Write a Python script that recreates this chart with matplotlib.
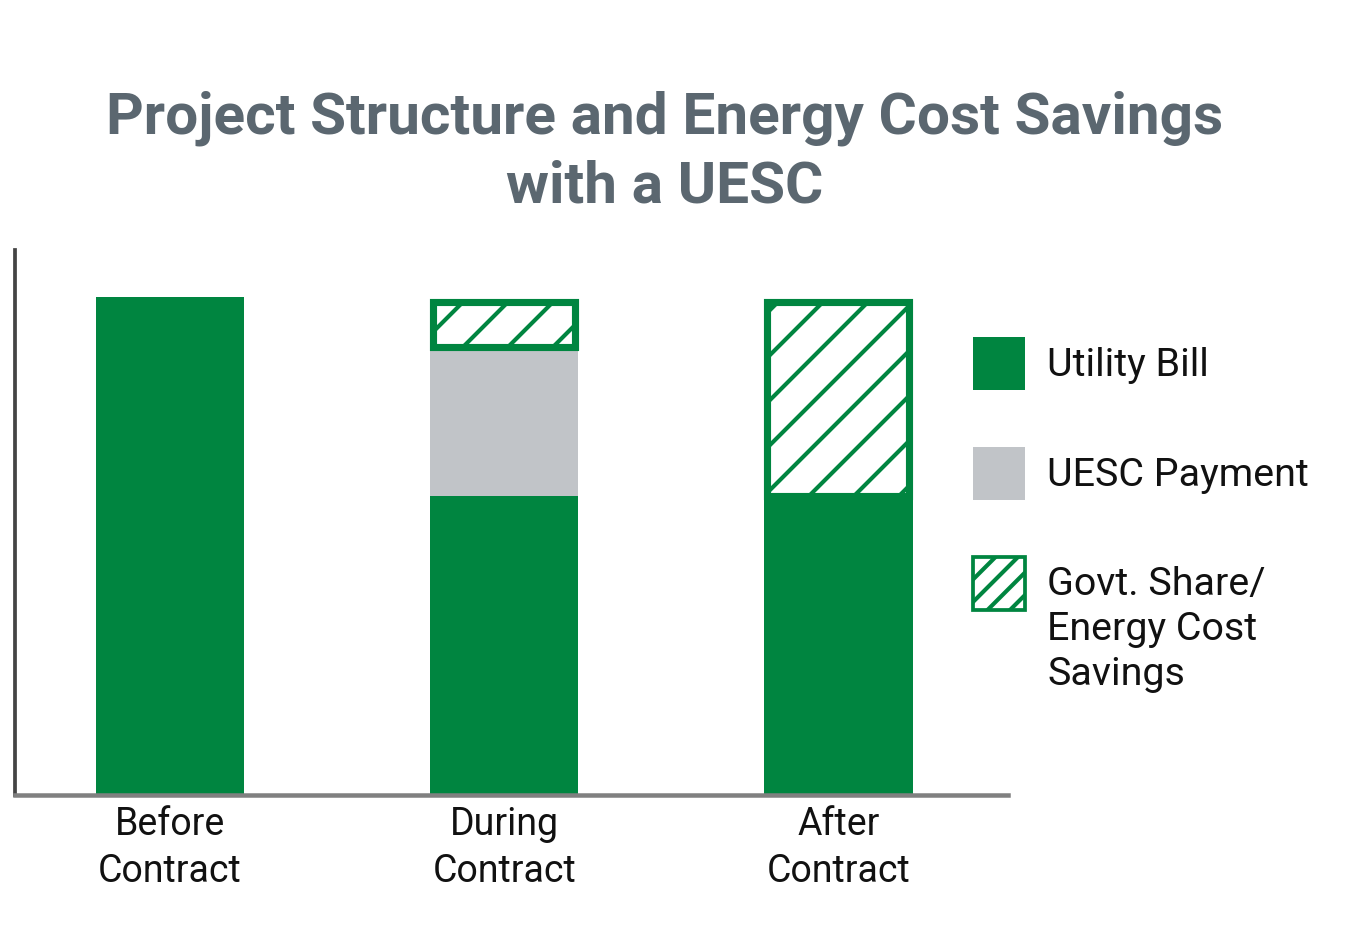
import matplotlib
matplotlib.use("Agg")
import matplotlib.pyplot as plt
import numpy as np
from matplotlib.patches import Patch, Rectangle
from matplotlib.legend_handler import HandlerPatch

# ---- data ----
categories = ["Before\nContract", "During\nContract", "After\nContract"]
utility_bill = [100, 60, 60]
uesc_payment = [0, 30, 0]
savings = [0, 9, 39]
legend_labels = ["Utility Bill", "UESC Payment", "Govt. Share/\nEnergy Cost\nSavings"]
title = "Project Structure and Energy Cost Savings\nwith a UESC"

GREEN = "#008540"
GRAY = "#c1c4c8"
TITLE_COLOR = "#5b6770"

plt.rcParams["font.family"] = ["Roboto", "DejaVu Sans"]
plt.rcParams["hatch.linewidth"] = 1.1

DPI = 270
fig = plt.figure(figsize=(1350 / DPI, 949 / DPI), dpi=DPI)
fig.patch.set_facecolor("white")
ax = fig.add_axes([15 / 1350, 1 - 795 / 949, 993 / 1350, 545 / 949])

x = np.arange(len(categories))
width = 0.445
ub = np.array(utility_bill, dtype=float)
up = np.array(uesc_payment, dtype=float)
sv = np.array(savings, dtype=float)

ax.bar(x, ub, width=width, color=GREEN, linewidth=0, zorder=2)
m = up > 0
ax.bar(x[m], up[m], width=width, bottom=ub[m], color=GRAY, linewidth=0, zorder=2)
s = sv > 0
ax.bar(x[s], sv[s], width=width - 0.021, bottom=(ub + up)[s], facecolor="white",
       edgecolor=GREEN, hatch="//", linewidth=1.9, zorder=3)

ax.set_xlim(-0.464, 2.508)
ax.set_ylim(0, 109.4)
ax.set_yticks([])
ax.set_xticks(x)
ax.set_xticklabels(categories, fontsize=10, color="#111111", linespacing=1.32)
ax.tick_params(axis="x", length=0, pad=3)
for side in ["top", "right"]:
    ax.spines[side].set_visible(False)
ax.spines["left"].set_color("#444444")
ax.spines["left"].set_linewidth(1.0)
ax.spines["bottom"].set_color("#808080")
ax.spines["bottom"].set_linewidth(1.2)
ax.spines["left"].set_zorder(4)
ax.spines["bottom"].set_zorder(4)

fig.text(665 / 1350, 1 - 90 / 949, title, ha="center", va="top", fontsize=15.6,
         fontweight="bold", color=TITLE_COLOR, linespacing=1.32)

# legend
handles = [
    Patch(facecolor=GREEN, edgecolor="none"),
    Patch(facecolor=GRAY, edgecolor="none"),
    Patch(facecolor="white", edgecolor=GREEN, hatch="////", linewidth=1.0),
]

LEG_FS = 10.5
SHIFT = 10.3


def shifted_rect(legend, orig_handle, xdescent, ydescent, width, height, fontsize):
    return Rectangle((-xdescent, -ydescent + SHIFT), width, height)


leg = ax.legend(handles, legend_labels, loc="upper left",
                bbox_to_anchor=(973 / 1350, 1 - 337 / 949),
                bbox_transform=fig.transFigure, frameon=False, fontsize=LEG_FS,
                handlelength=1.32, handleheight=1.69, handletextpad=0.56,
                labelspacing=1.45, borderpad=0, borderaxespad=0,
                handler_map={handles[2]: HandlerPatch(patch_func=shifted_rect)})
for t in leg.get_texts():
    t.set_color("#111111")
    t.set_linespacing(1.28)
# nudge the multi-line label down a little (display pixels)
leg.get_texts()[2].set_y(-9)

fig.savefig("out.png", dpi=DPI, facecolor="white")
